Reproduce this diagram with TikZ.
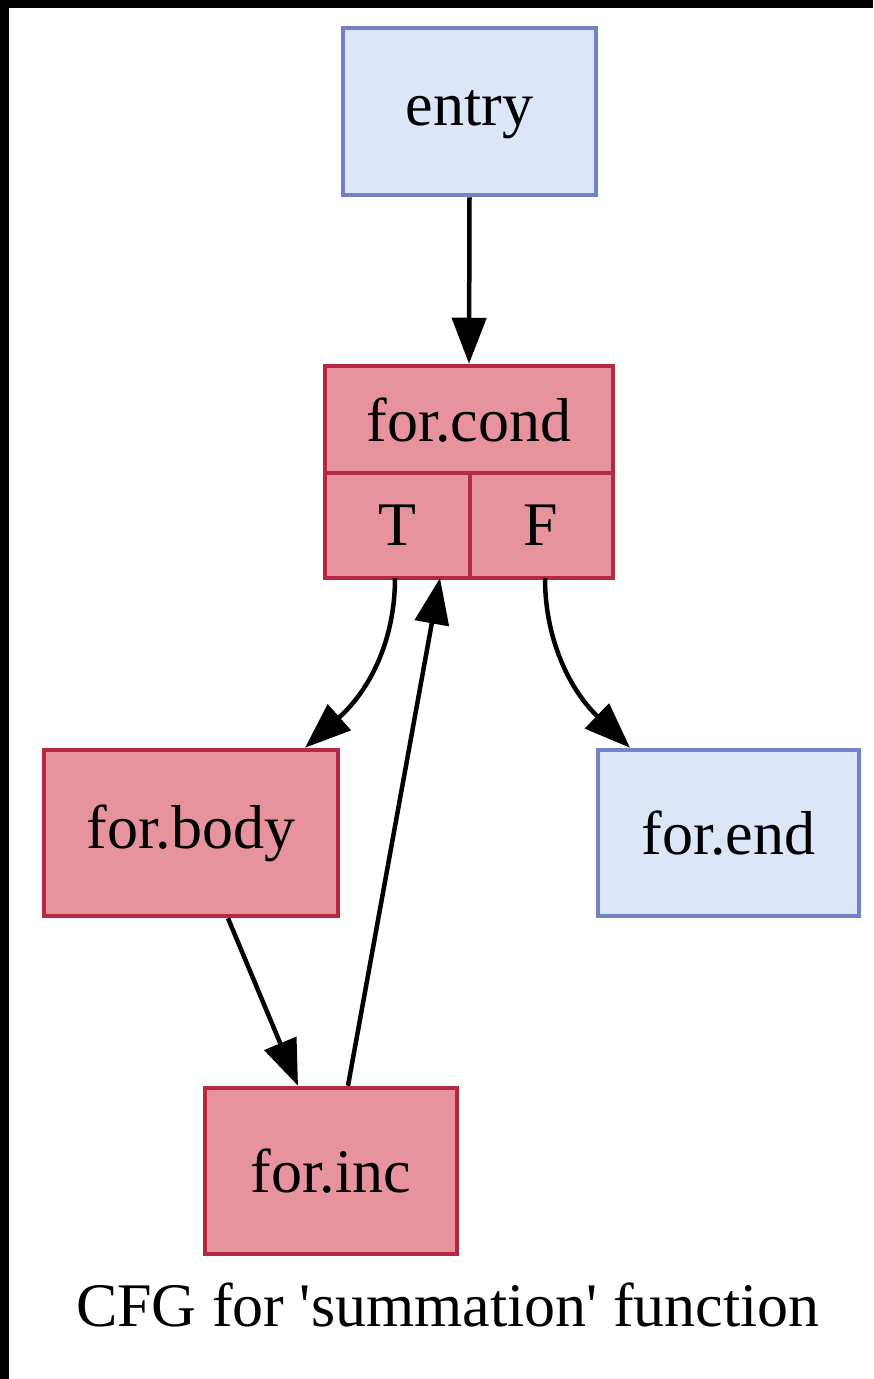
\documentclass[tikz,border=0pt]{standalone}
\usepackage{fontspec}
\setmainfont{Liberation Serif}
\usetikzlibrary{arrows.meta}
\definecolor{bluefill}{HTML}{DCE6F8}
\definecolor{blueline}{HTML}{7282C2}
\definecolor{redfill}{HTML}{E6939D}
\definecolor{redline}{HTML}{B42A45}
\begin{document}
\begin{tikzpicture}[x=1pt,y=-1pt,
  bbox/.style={draw=blueline,fill=bluefill,line width=4.5pt,inner sep=0pt},
  rbox/.style={draw=redline,fill=redfill,line width=4.5pt,inner sep=0pt},
  lbl/.style={font=\fontsize{62}{70}\selectfont,inner sep=0pt},
  edge/.style={line width=4.5pt,-{Triangle[length=46pt,width=34pt]}}]
\fill[black] (0,0) rectangle (873,1379);
\fill[white] (9,8) rectangle (873,1379);
\useasboundingbox (0,0) rectangle (873,1379);
% nodes
\node[bbox,minimum width=253pt,minimum height=167pt] (entry) at (469.5,111.5) {};
\node[lbl] at (469.5,115) {entry};
\node[rbox,minimum width=288pt,minimum height=212pt] (cond) at (469,472) {};
\draw[redline,line width=4.5pt] (325,473) -- (613,473);
\draw[redline,line width=4.5pt] (470,473) -- (470,578);
\node[lbl] (condtitle) at (469,420) {for.cond};
\node[lbl] (condT) at (397,525) {T};
\node[lbl] (condF) at (541,525) {F};
\coordinate (Tport) at (395,578);
\coordinate (Fport) at (545,578);
\coordinate (inport) at (440,578);
\node[rbox,minimum width=294pt,minimum height=166pt] (body) at (191,833) {};
\node[lbl] at (body.center) {for.body};
\node[bbox,minimum width=261pt,minimum height=166pt] (end) at (728.5,833) {};
\node[lbl] at (end.center) {for.end};
\node[rbox,minimum width=252pt,minimum height=166pt] (inc) at (331,1171) {};
\node[lbl] at (inc.center) {for.inc};
\node[lbl] (caption) at (448,1305) {CFG for \textquotesingle summation\textquotesingle\ function};
% edges
\draw[edge] (entry.south) -- (cond.north);
\draw[edge] (Tport) .. controls (395,640) and (370,690) .. (body.north -| 305,0);
\draw[edge] (Fport) .. controls (545,640) and (570,690) .. (end.north -| 630,0);
\draw[edge] (body.south -| 228,0) -- (inc.north -| 298,0);
\draw[edge] (inc.north -| 348,0) -- (inport);
\end{tikzpicture}
\end{document}
